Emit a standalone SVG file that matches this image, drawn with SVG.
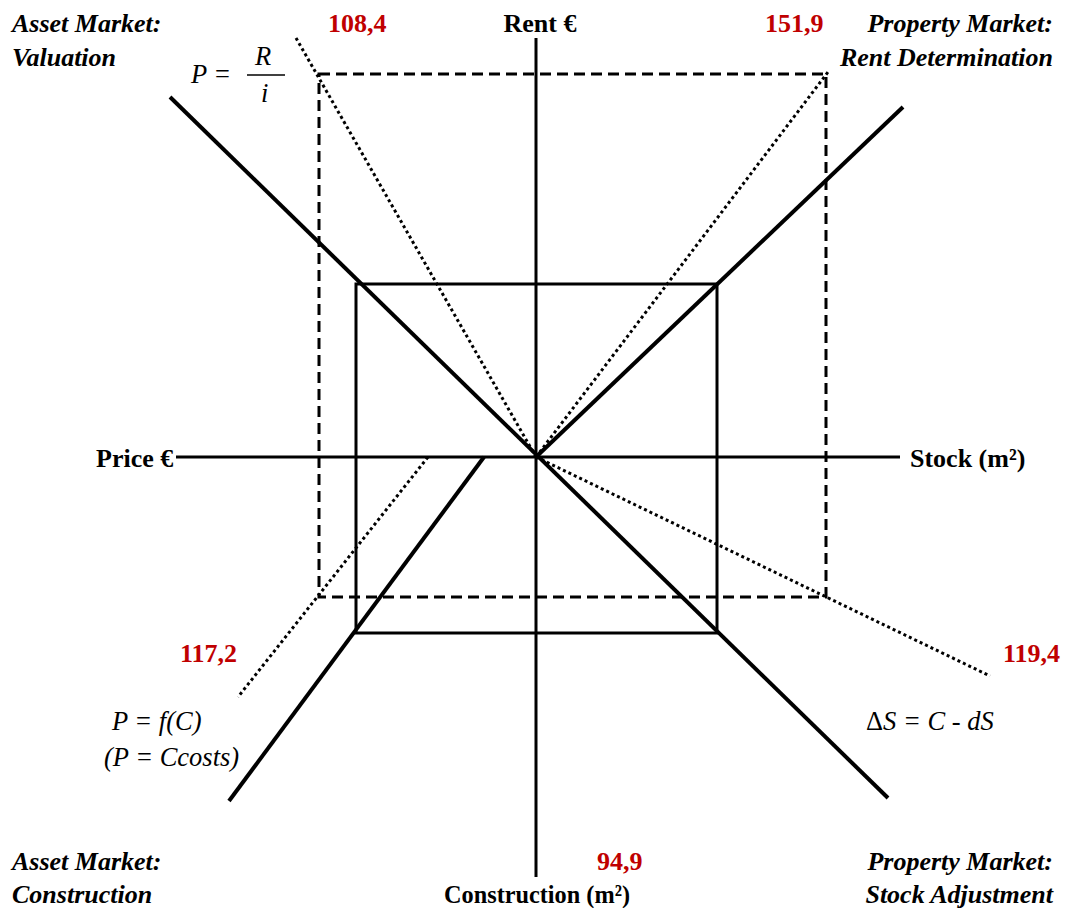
<svg xmlns="http://www.w3.org/2000/svg" width="1065" height="908" viewBox="0 0 1065 908">
<style>
.lbl{font-family:"Liberation Serif","Times New Roman",serif;font-size:26px;font-weight:bold;font-style:italic;fill:#000}
.ax{font-family:"Liberation Serif","Times New Roman",serif;font-size:26px;font-weight:bold;fill:#000}
.num{font-family:"Liberation Serif","Times New Roman",serif;font-size:26px;font-weight:bold;fill:#c00000}
.eq{font-family:"Liberation Serif","Times New Roman",serif;font-size:26.5px;font-style:italic;fill:#000}
.axis{stroke:#000;stroke-width:3;fill:none}
.curve{stroke:#000;stroke-width:4;fill:none}
.box{stroke:#000;stroke-width:3;fill:none}
.dash{stroke:#000;stroke-width:3;fill:none;stroke-dasharray:11 6}
.dot{stroke:#000;stroke-width:3;fill:none;stroke-dasharray:3 3}
</style>
<rect width="1065" height="908" fill="#fff"/>
<g id="connectors">
<line class="axis" x1="536" y1="38" x2="536" y2="877"/>
<line class="axis" x1="176" y1="457" x2="900" y2="457"/>
<rect class="dash" x="319" y="74" width="507" height="523"/>
<rect class="box" x="356" y="284" width="361" height="349"/>
<line class="curve" x1="170" y1="97" x2="888" y2="798"/>
<line class="curve" x1="536" y1="457" x2="903" y2="107"/>
<line class="curve" x1="484" y1="457" x2="229" y2="801"/>
<line class="dot" x1="296" y1="38" x2="536" y2="457"/>
<line class="dot" x1="536" y1="457" x2="828" y2="72"/>
<line class="dot" x1="428" y1="457" x2="238" y2="697"/>
<line class="dot" x1="536" y1="457" x2="990" y2="676"/>
</g>
<g id="quadrant-asset-valuation">
<text class="lbl" x="12" y="32">Asset Market:</text>
<text class="lbl" x="12" y="66">Valuation</text>
</g>
<g id="quadrant-property-rent">
<text class="lbl" x="1053" y="32" text-anchor="end">Property Market:</text>
<text class="lbl" x="1053" y="66" text-anchor="end">Rent Determination</text>
</g>
<g id="quadrant-asset-construction">
<text class="lbl" x="12" y="870">Asset Market:</text>
<text class="lbl" x="12" y="903">Construction</text>
</g>
<g id="quadrant-property-stock">
<text class="lbl" x="1053" y="870" text-anchor="end">Property Market:</text>
<text class="lbl" x="1053" y="903" text-anchor="end">Stock Adjustment</text>
</g>
<g id="axis-labels">
<text class="ax" x="540" y="32" text-anchor="middle">Rent €</text>
<text class="ax" x="96" y="467">Price €</text>
<text class="ax" x="910" y="467">Stock (m²)</text>
<text class="ax" x="444" y="903" textLength="186" lengthAdjust="spacingAndGlyphs">Construction (m²)</text>
</g>
<g id="values">
<text class="num" x="328" y="32">108,4</text>
<text class="num" x="765" y="32">151,9</text>
<text class="num" x="180" y="662">117,2</text>
<text class="num" x="1003" y="662">119,4</text>
<text class="num" x="597" y="870">94,9</text>
</g>
<g id="eq-valuation">
<text class="eq" x="191" y="83">P =</text>
<text class="eq" x="255" y="65">R</text>
<line x1="247" y1="75" x2="285" y2="75" stroke="#000" stroke-width="1.5"/>
<text class="eq" x="261" y="102">i</text>
</g>
<g id="eq-construction">
<text class="eq" x="112" y="730">P = f(C)</text>
<text class="eq" x="104" y="766">(P = Ccosts)</text>
</g>
<g id="eq-stock">
<text class="eq" x="866" y="730"><tspan font-style="normal">Δ</tspan>S = C - dS</text>
</g>
</svg>
